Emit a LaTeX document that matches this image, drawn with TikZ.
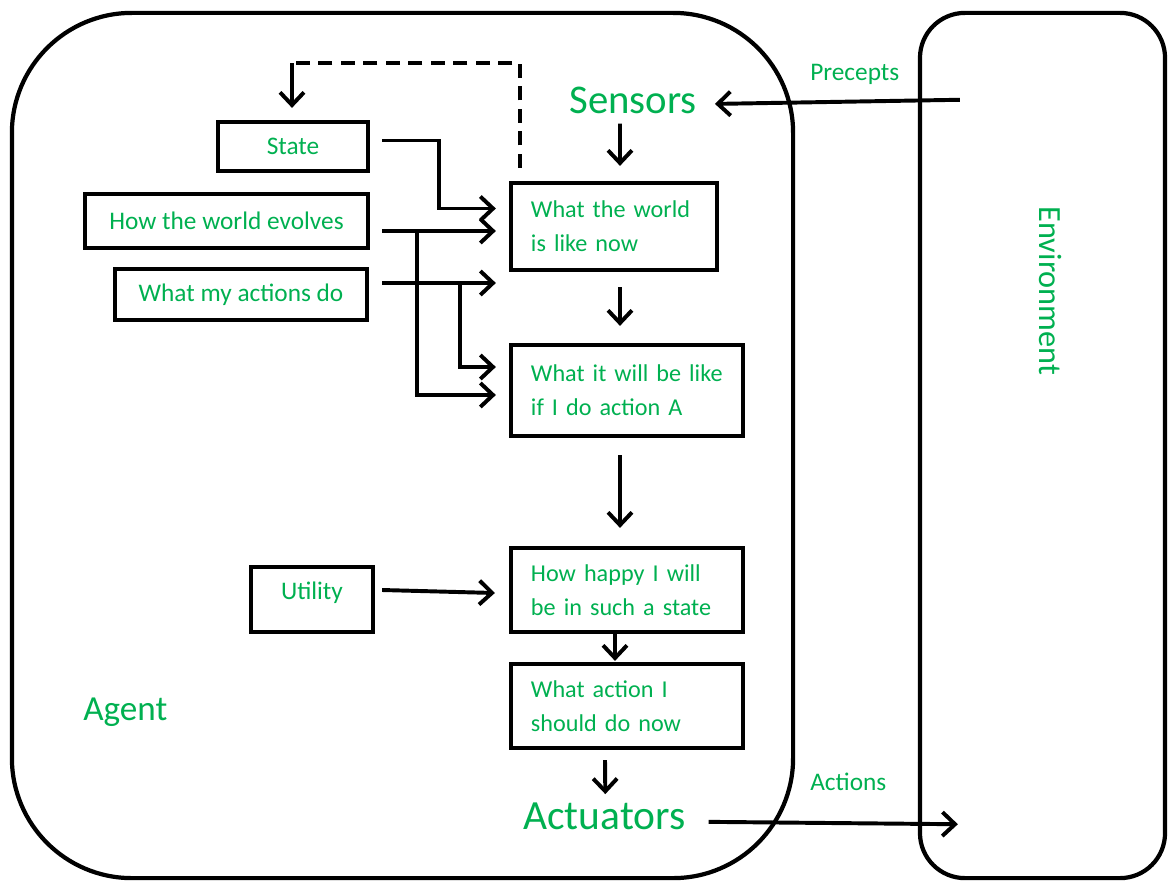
\documentclass[tikz,border=0pt]{standalone}
\usepackage{fontspec}
\setmainfont{Carlito}
\usepackage{tikz}
\usetikzlibrary{arrows.meta}
\definecolor{agentgreen}{RGB}{0,176,80}
\tikzstyle{block} = [rectangle, draw, line width=3pt, text=agentgreen, font=\fontsize{18}{24}\selectfont, inner sep=0pt]
\tikzstyle{wideblock} = [block, align=left, inner xsep=0.5cm, font=\fontsize{17.2}{24}\selectfont]
\tikzstyle{frame} = [rectangle, draw, line width=3pt]
\tikzstyle{gtext} = [text=agentgreen, inner sep=0pt]
\tikzstyle{line} = [draw, line width=2.8pt, -{Straight Barb[length=9pt,width=17pt]}]

\begin{document}
\begin{tikzpicture}[x=0.025cm, y=-0.025cm]
	\useasboundingbox (0,0) rectangle (1168,881);
	% Place nodes
	\node [frame, rounded corners=3cm, minimum width=19.525cm, minimum height=21.625cm] (agent) at (402.5,445.5) {};
	\node [frame, rounded corners=1.125cm, minimum width=6.125cm, minimum height=21.625cm] (env) at (1042.5,445.5) {};
	\node [gtext, font=\fontsize{29}{29}\selectfont, anchor=base west] (sensors) at (569,113) {Sensors};
	\node [gtext, font=\fontsize{29.5}{29}\selectfont, anchor=base west] (actuators) at (523,829) {Actuators};
	\node [gtext, font=\fontsize{25}{25}\selectfont, anchor=base west] (agentname) at (83,720) {Agent};
	\node [gtext, font=\fontsize{18}{18}\selectfont, anchor=base west] (precepts) at (810,80) {Precepts};
	\node [gtext, font=\fontsize{18}{18}\selectfont, anchor=base west] (actions) at (810,790) {Actions};
	\node [gtext, font=\fontsize{23}{23}\selectfont, rotate=-90] (envname) at (1050,291) {Environment};
	
	\node [block, minimum width=3.75cm, minimum height=1.225cm] (state) at (293,146.5) {State};
	\node [block, minimum width=7.075cm, minimum height=1.35cm] (evolves) at (226.5,221) {How the world evolves};
	\node [block, minimum width=6.3cm, minimum height=1.275cm] (actdo) at (241,294.5) {What my actions do};
	\node [block, minimum width=3.05cm, minimum height=1.625cm, text depth=0.45cm, text height=0.45cm] (utility) at (312,599.5) {Utility};
	
	\node [wideblock, text width=4.15cm, minimum height=2.175cm] (now) at (614,226.5) {What the world\\is like now};
	\node [wideblock, text width=4.8cm, minimum height=2.275cm] (willbe) at (627,390.5) {What it will be like\\if I do action A};
	\node [wideblock, text width=4.8cm, minimum height=2.1cm] (happy) at (627,590) {How happy I will\\be in such a state};
	\node [wideblock, text width=4.8cm, minimum height=2.1cm] (decide) at (627,706) {What action I\\should do now};
	\coordinate (memtop) at (292,63);
	
	% Draw edges
	\path [line] ([shift={(42,89)}]env.north west) -- ([shift={(18,4)}]sensors.east);
	\path [line] ([shift={(-13,10)}]sensors.south) -- ([shift={(6,-15)}]now.north);
	\draw [line width=2.8pt, dash pattern=on 10pt off 6pt] ([shift={(-94,-13)}]now.north) |- (memtop);
	\path [line] (memtop) -- ([shift={(-1,-12)}]state.north);
	\path [line] ([shift={(12,-6)}]state.east) -- ++(57,0) |- ([shift={(-13,-18)}]now.west);
	\path [line] ([shift={(12,10)}]evolves.east) -- ([shift={(-13,4.5)}]now.west);
	\path [line] ([shift={(47,10)}]evolves.east) |- ([shift={(-13,4.5)}]willbe.west);
	\path [line] ([shift={(13,-11.5)}]actdo.east) -- ([shift={(-13,56.5)}]now.west);
	\path [line] ([shift={(91,-11.5)}]actdo.east) |- ([shift={(-13,-23.5)}]willbe.west);
	\path [line] ([shift={(6,15)}]now.south) -- ([shift={(-7,-17)}]willbe.north);
	\path [line] ([shift={(-7,17)}]willbe.south) -- ([shift={(-7,-18)}]happy.north);
	\path [line] ([shift={(7,-9.5)}]utility.east) -- ([shift={(-14,3)}]happy.west);
	\path [line] ([shift={(-12,0)}]happy.south) -- ([shift={(-12,-1)}]decide.north);
	\path [line] ([shift={(-22,10)}]decide.south) -- ([shift={(1,-8)}]actuators.north);
	\path [line] ([shift={(23,6)}]actuators.east) -- ([shift={(40,-56)}]env.south west);
\end{tikzpicture}
\end{document}
